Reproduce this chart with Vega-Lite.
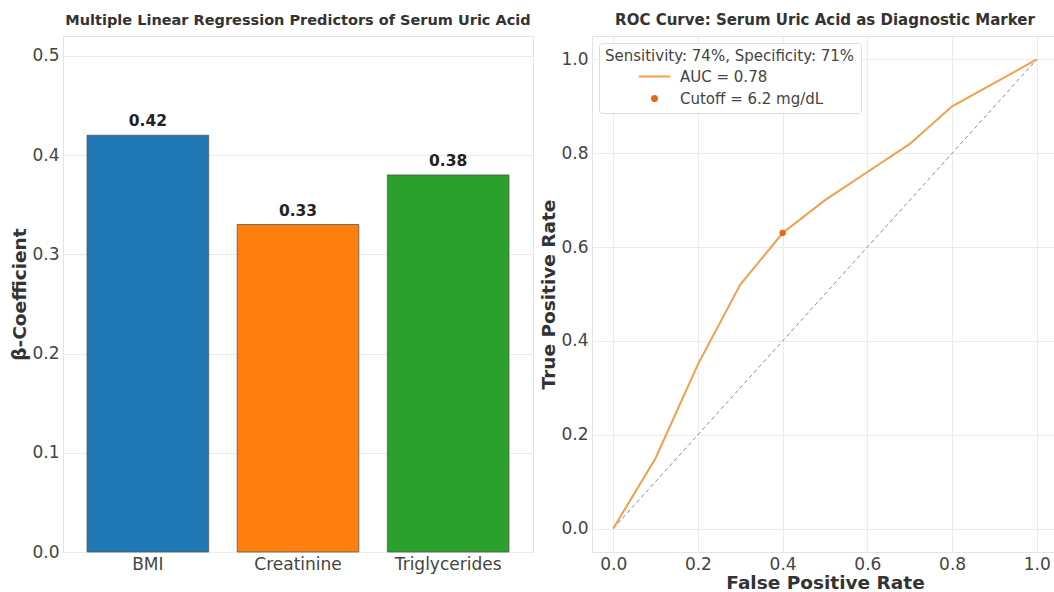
{
  "$schema": "https://vega.github.io/schema/vega-lite/v6.json",
  "background": "white",
  "padding": {"left": 10, "top": 12, "right": 0, "bottom": 0},
  "spacing": 5,
  "resolve": {"scale": {"color": "independent"}, "legend": {"color": "independent"}},
  "config": {
    "font": "DejaVu Sans",
    "view": {"stroke": "#e3e3e3"},
    "axis": {
      "gridColor": "#ebebeb",
      "domain": false,
      "ticks": false,
      "labelFontSize": 17,
      "labelColor": "#444",
      "titleFontSize": 18.5,
      "titleFontWeight": "bold",
      "titleColor": "#333"
    },
    "axisY": {"labelPadding": 4, "titlePadding": 2},
    "axisX": {"labelPadding": 4, "titlePadding": 1},
    "title": {"fontWeight": "bold", "color": "#333", "offset": 8}
  },
  "hconcat": [
    {
      "width": 470,
      "height": 516,
      "title": {"text": "Multiple Linear Regression Predictors of Serum Uric Acid", "fontSize": 14.5},
      "data": {"values": [
        {"predictor": "BMI", "beta": 0.42},
        {"predictor": "Creatinine", "beta": 0.33},
        {"predictor": "Triglycerides", "beta": 0.38}
      ]},
      "encoding": {
        "x": {"field": "predictor", "type": "nominal", "sort": null,
              "scale": {"paddingInner": 0.19, "paddingOuter": 0.16},
              "axis": {"title": null, "labelAngle": 0, "bandPosition": 0.5}},
        "y": {"field": "beta", "type": "quantitative",
              "scale": {"domain": [0, 0.52], "nice": false},
              "axis": {"title": "β-Coefficient", "values": [0, 0.1, 0.2, 0.3, 0.4, 0.5], "format": ".1f"}}
      },
      "layer": [
        {
          "mark": {"type": "bar", "stroke": "#555", "strokeWidth": 0.8, "opacity": 1},
          "encoding": {"fill": {"field": "predictor", "type": "nominal", "sort": null,
            "scale": {"domain": ["BMI", "Creatinine", "Triglycerides"], "range": ["#1f77b4", "#ff7f0e", "#2ca02c"]}, "legend": null}}
        },
        {
          "mark": {"type": "text", "baseline": "bottom", "dy": -6, "fontWeight": "bold", "fontSize": 15.5, "color": "#222"},
          "encoding": {"text": {"field": "beta", "type": "quantitative", "format": ".2f"}}
        }
      ]
    },
    {
      "width": 466,
      "height": 516,
      "title": {"text": "ROC Curve: Serum Uric Acid as Diagnostic Marker", "fontSize": 15},
      "encoding": {
        "x": {"field": "fpr", "type": "quantitative",
              "scale": {"domain": [-0.05, 1.05], "nice": false, "zero": false},
              "axis": {"title": "False Positive Rate", "values": [0, 0.2, 0.4, 0.6, 0.8, 1.0], "format": ".1f"}},
        "y": {"field": "tpr", "type": "quantitative",
              "scale": {"domain": [-0.05, 1.05], "nice": false, "zero": false},
              "axis": {"title": "True Positive Rate", "values": [0, 0.2, 0.4, 0.6, 0.8, 1.0], "format": ".1f"}}
      },
      "layer": [
        {
          "data": {"values": [{"fpr": 0, "tpr": 0}, {"fpr": 1, "tpr": 1}]},
          "mark": {"type": "line", "color": "#8c8c8c", "strokeWidth": 1, "strokeDash": [4, 3]},
          "encoding": {}
        },
        {
          "data": {"values": [
            {"fpr": 0.0, "tpr": 0.0, "series": "AUC = 0.78"},
            {"fpr": 0.1, "tpr": 0.15, "series": "AUC = 0.78"},
            {"fpr": 0.2, "tpr": 0.35, "series": "AUC = 0.78"},
            {"fpr": 0.3, "tpr": 0.52, "series": "AUC = 0.78"},
            {"fpr": 0.4, "tpr": 0.63, "series": "AUC = 0.78"},
            {"fpr": 0.5, "tpr": 0.70, "series": "AUC = 0.78"},
            {"fpr": 0.6, "tpr": 0.76, "series": "AUC = 0.78"},
            {"fpr": 0.7, "tpr": 0.82, "series": "AUC = 0.78"},
            {"fpr": 0.8, "tpr": 0.90, "series": "AUC = 0.78"},
            {"fpr": 0.9, "tpr": 0.95, "series": "AUC = 0.78"},
            {"fpr": 1.0, "tpr": 1.0, "series": "AUC = 0.78"}
          ]},
          "mark": {"type": "line", "strokeWidth": 2},
          "encoding": {
            "color": {"field": "series", "type": "nominal",
                  "scale": {"domain": ["AUC = 0.78", "Cutoff = 6.2 mg/dL"], "range": ["#f59e4c", "#e66a12"]},
                  "legend": {
                    "title": "Sensitivity: 74%, Specificity: 71%",
                    "titleLimit": 400,
                    "orient": "top-left",
                    "offset": 7,
                    "fillColor": "white",
                    "strokeColor": "#dddddd",
                    "padding": 6,
                    "cornerRadius": 3,
                    "titleFontWeight": "normal",
                    "titleFontSize": 15,
                    "titleColor": "#444",
                    "labelFontSize": 15,
                    "labelColor": "#444",
                    "symbolSize": 900,
                    "symbolOffset": 42,
                    "labelOffset": 18,
                    "rowPadding": 6,
                    "encode": {
                      "symbols": {"update": {
                        "shape": {"signal": "datum.value == 'AUC = 0.78' ? 'stroke' : 'circle'"},
                        "size": {"signal": "datum.value == 'AUC = 0.78' ? 1000 : 25"},
                        "strokeWidth": {"value": 2},
                        "fill": {"signal": "datum.value == 'AUC = 0.78' ? 'transparent' : '#e66a12'"},
                        "stroke": {"signal": "datum.value == 'AUC = 0.78' ? '#f59e4c' : 'transparent'"},
                        "opacity": {"value": 1}
                      }}
                    }
                  }}
          }
        },
        {
          "data": {"values": [{"fpr": 0.4, "tpr": 0.63, "series": "Cutoff = 6.2 mg/dL"}]},
          "mark": {"type": "point", "filled": true, "size": 40, "opacity": 1},
          "encoding": {
            "color": {"field": "series", "type": "nominal"}
          }
        }
      ]
    }
  ]
}
